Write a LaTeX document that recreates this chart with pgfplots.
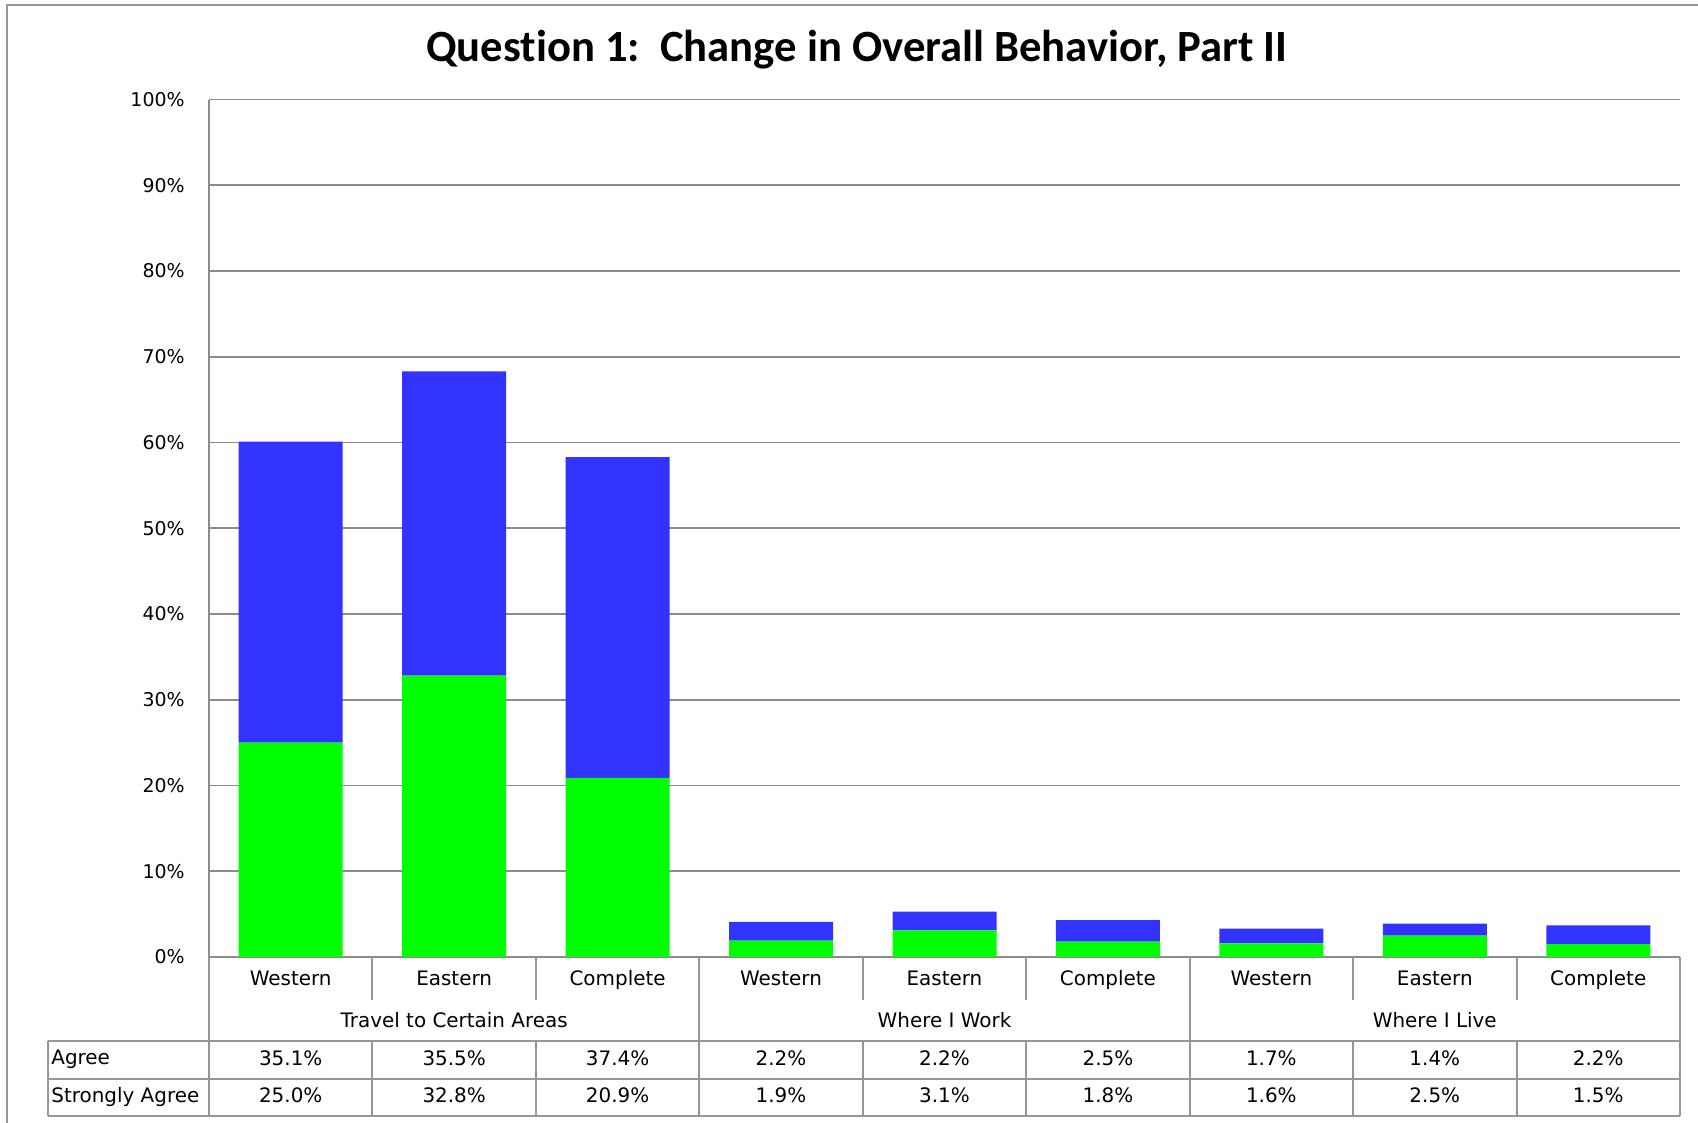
\documentclass[border=0pt]{standalone}
\usepackage{pgfplots}
\pgfplotsset{compat=1.18}
\usepackage{pgfplotstable}
\usepackage{fontspec}
\setmainfont{DejaVu Sans}
\newfontfamily\titlefont[Ligatures=NoCommon]{Carlito}
\definecolor{barblue}{RGB}{51,51,255}
\definecolor{bargreen}{RGB}{0,255,0}
\definecolor{gridgray}{RGB}{140,140,140}
\definecolor{tabgray}{RGB}{150,150,150}

\pgfplotstableread{
x sa ag
0 25.0 35.1
1 32.8 35.5
2 20.9 37.4
3 1.9 2.2
4 3.1 2.2
5 1.8 2.5
6 1.6 1.7
7 2.5 1.4
8 1.5 2.2
}\data

\begin{document}
\begin{tikzpicture}
\begin{scope}[x=0.5bp,y=-0.5bp,shift={(-209,-957)}]
\useasboundingbox (0,0) rectangle (1698,1123);
\draw[tabgray, line width=1bp] (7,1123) -- (7,5) -- (1698,5);
\node[anchor=base, font=\titlefont\bfseries\fontsize{22.4}{26}\selectfont] at (857,62) {Question 1:\ \ Change in Overall Behavior, Part II};
\end{scope}

\begin{axis}[at={(0,0)}, anchor=south west, scale only axis,
  width=735.5bp, height=428.7bp,
  xmin=-0.5, xmax=8.5, ymin=0, ymax=100,
  ybar stacked, bar width=52bp,
  xtick=\empty,
  ytick={0,10,...,100},
  yticklabel={\pgfmathparse{int(round(\tick))}\pgfmathresult\%},
  y tick label style={font=\fontsize{9.5}{11}\selectfont, anchor=east, inner sep=0pt, xshift=-12bp},
  major tick length=0pt,
  ymajorgrids, grid style={gridgray, line width=0.8bp},
  axis x line*=bottom, axis y line*=left,
  axis line style={gridgray, line width=0.8bp},
  clip=false]
\addplot[fill=bargreen, draw=none] table[x=x,y=sa]{\data};
\addplot[fill=barblue, draw=none] table[x=x,y=ag]{\data};
\end{axis}

\begin{scope}[x=0.5bp,y=-0.5bp,shift={(-209,-957)}]
\begin{scope}[tabgray, line width=1bp]
\draw (48,1041) -- (1680,1041);
\draw (48,1079) -- (1680,1079);
\draw (48,1116) -- (1680,1116);
\draw (48,1041) -- (48,1116);
\draw (209,957) -- (209,1116);
\draw (1680,957) -- (1680,1116);
\foreach \k in {3,6} {\draw ({209+163.44*\k},957) -- ({209+163.44*\k},1116);}
\foreach \k in {1,2,4,5,7,8} {
  \draw ({209+163.44*\k},957) -- ({209+163.44*\k},1000);
  \draw ({209+163.44*\k},1041) -- ({209+163.44*\k},1116);
}
\end{scope}
\begin{scope}[every node/.style={text=black, font=\fontsize{10}{12}\selectfont, text height=7.3bp, text depth=1.9bp}]
\foreach \c [count=\i from 0] in {Western,Eastern,Complete,Western,Eastern,Complete,Western,Eastern,Complete}
  {\node at ({209+163.44*(\i+0.5)},980) {\c};}
\foreach \g [count=\i from 0] in {Travel to Certain Areas,Where I Work,Where I Live}
  {\node at ({209+163.44*(3*\i+1.5)},1022) {\g};}
\node[anchor=west, inner xsep=1.5bp] at (48,1059) {Agree};
\node[anchor=west, inner xsep=1.5bp] at (48,1097) {Strongly Agree};
\foreach \v [count=\i from 0] in {35.1,35.5,37.4,2.2,2.2,2.5,1.7,1.4,2.2}
  {\node at ({209+163.44*(\i+0.5)},1060) {\v\%};}
\foreach \v [count=\i from 0] in {25.0,32.8,20.9,1.9,3.1,1.8,1.6,2.5,1.5}
  {\node at ({209+163.44*(\i+0.5)},1097) {\v\%};}
\end{scope}
\end{scope}
\end{tikzpicture}
\end{document}
